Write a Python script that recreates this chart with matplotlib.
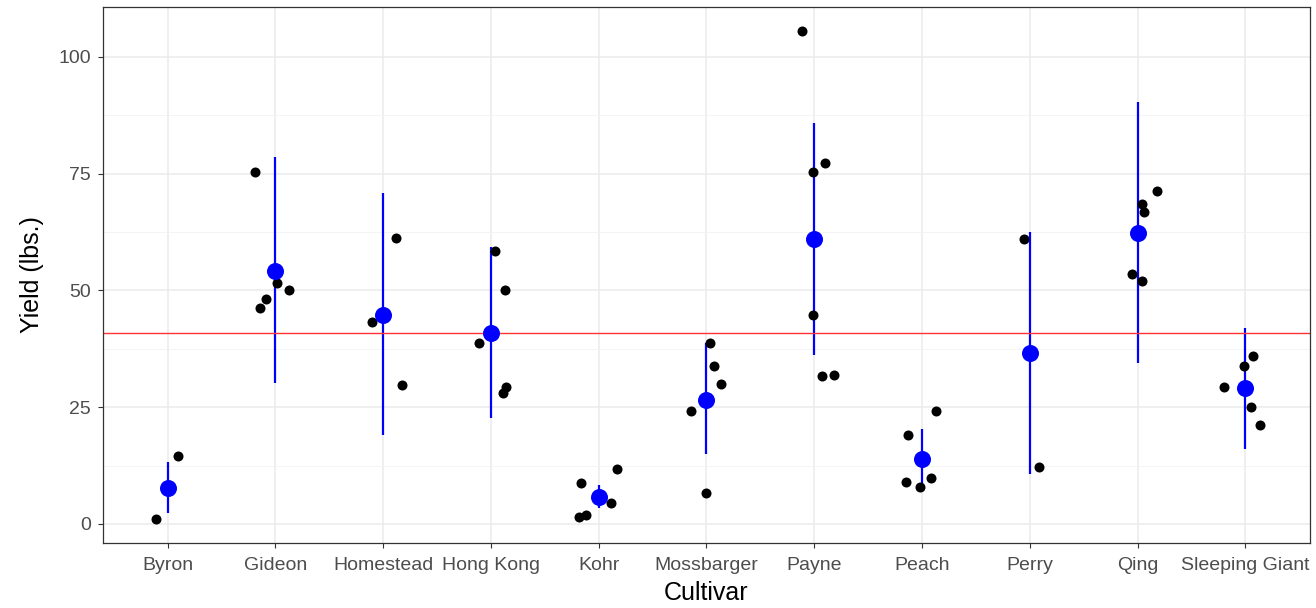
import numpy as np
import matplotlib.pyplot as plt
from matplotlib.ticker import MultipleLocator

plt.rcParams['font.family'] = ['Liberation Sans', 'DejaVu Sans']

cultivars = ["Byron", "Gideon", "Homestead", "Hong Kong", "Kohr", "Mossbarger",
             "Payne", "Peach", "Perry", "Qing", "Sleeping Giant"]

# individual yields per cultivar, with the horizontal jitter seen in the plot
yields = [
    [1.0, 14.6],
    [75.3, 51.7, 50.0, 48.1, 46.2],
    [61.2, 43.3, 29.8],
    [58.5, 50.0, 38.8, 29.3, 28.1],
    [8.8, 11.8, 4.6, 1.5, 1.9],
    [38.8, 33.8, 29.9, 24.1, 6.6],
    [105.6, 77.3, 75.3, 44.8, 31.6, 31.8],
    [24.1, 19.1, 9.0, 8.0, 9.9],
    [61.0, 12.3],
    [71.4, 68.6, 66.7, 53.5, 52.0],
    [35.9, 33.9, 29.3, 25.0, 21.3],
]
jitter = [
    [-0.11, 0.10],
    [-0.19, 0.01, 0.13, -0.09, -0.14],
    [0.12, -0.10, 0.17],
    [0.04, 0.13, -0.11, 0.14, 0.11],
    [-0.16, 0.17, 0.11, -0.18, -0.12],
    [0.03, 0.07, 0.13, -0.14, 0.0],
    [-0.11, 0.10, -0.01, -0.01, 0.07, 0.18],
    [0.13, -0.13, -0.15, -0.02, 0.08],
    [-0.05, 0.09],
    [0.18, 0.04, 0.06, -0.05, 0.04],
    [0.07, -0.01, -0.20, 0.05, 0.14],
]

means = [7.8, 54.2, 44.8, 41.0, 5.8, 26.6, 61.1, 14.0, 36.7, 62.4, 29.2]
err_lo = [2.3, 30.1, 19.1, 22.8, 3.4, 14.9, 36.2, 7.8, 10.8, 34.5, 16.1]
err_hi = [13.3, 78.6, 70.8, 59.4, 8.4, 38.8, 85.9, 20.3, 62.6, 90.3, 42.0]
grand_mean = 41.0

fig = plt.figure(figsize=(13.16, 6.08), dpi=100)
ax = fig.add_axes([0.0783, 0.1069, 0.9171, 0.8816])

x = np.arange(1, len(cultivars) + 1)

for i, (ys, js) in enumerate(zip(yields, jitter)):
    ax.scatter(x[i] + np.array(js), ys, s=52, color='black', zorder=3, linewidths=0)

ax.vlines(x, err_lo, err_hi, color='#0000FF', linewidth=1.6, zorder=2)
ax.scatter(x, means, s=150, color='#0000FF', zorder=4, linewidths=0)
ax.axhline(grand_mean, color='#FF3333', linewidth=1.0, zorder=2.5)

ax.set_xlim(0.4, 11.6)
ax.set_ylim(-4.07, 110.7)
ax.set_xticks(x)
ax.set_xticklabels(cultivars)
ax.yaxis.set_major_locator(MultipleLocator(25))
ax.yaxis.set_minor_locator(MultipleLocator(12.5))
ax.grid(True, which='major', color='#EBEBEB', linewidth=1.1, zorder=0)
ax.grid(True, which='minor', axis='y', color='#F2F2F2', linewidth=0.6, zorder=0)
ax.set_axisbelow(True)
ax.tick_params(which='minor', length=0)
ax.tick_params(which='major', length=3.8, color='#333333', labelsize=14, labelcolor='#4D4D4D')
ax.tick_params(axis='x', pad=6.5)
ax.tick_params(axis='y', pad=5)
for s in ax.spines.values():
    s.set_color('#333333')
    s.set_linewidth(0.9)

ax.set_xlabel("Cultivar", fontsize=18, labelpad=5)
ax.set_ylabel("Yield (lbs.)", fontsize=18, labelpad=10.5)

fig.savefig("out.png", dpi=100)
